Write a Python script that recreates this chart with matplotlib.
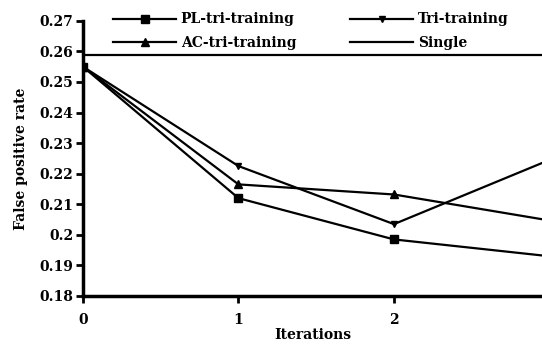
import matplotlib
matplotlib.use("Agg")
import matplotlib.pyplot as plt

iterations = [0, 1, 2, 3]
pl_tri = [0.255, 0.212, 0.1985, 0.193]
ac_tri = [0.255, 0.2165, 0.2132, 0.2047]
tri = [0.255, 0.2225, 0.2035, 0.2245]
single = 0.2588

yticks = [0.18, 0.19, 0.2, 0.21, 0.22, 0.23, 0.24, 0.25, 0.26, 0.27]
ytick_labels = ["0.18", "0.19", "0.2", "0.21", "0.22", "0.23", "0.24", "0.25", "0.26", "0.27"]

plt.rcParams["font.family"] = ["DejaVu Serif"]
plt.rcParams["font.weight"] = "bold"

fig = plt.figure(figsize=(5.42, 3.47), dpi=100)
ax = fig.add_axes([0.153, 0.147, 0.847, 0.793])

lw = 1.6
h1, = ax.plot(iterations, pl_tri, color="black", lw=lw, marker="s", ms=6, label="PL-tri-training")
h2, = ax.plot(iterations, ac_tri, color="black", lw=lw, marker="^", ms=6, label="AC-tri-training")
h3, = ax.plot(iterations, tri, color="black", lw=lw, marker="v", ms=4, label="Tri-training")
h4 = ax.axhline(single, color="black", lw=lw, label="Single")

ax.set_xlim(0, 2.952)
ax.set_ylim(0.18, 0.27)
ax.set_xticks([0, 1, 2])
ax.set_yticks(yticks)
ax.set_yticklabels(ytick_labels)

for side in ["top", "right"]:
    ax.spines[side].set_visible(False)
for side in ["left", "bottom"]:
    ax.spines[side].set_linewidth(2.5)
ax.tick_params(width=2, length=5, labelsize=10)
ax.tick_params(axis="y", pad=2)
ax.tick_params(axis="x", pad=7)
for lab in ax.get_xticklabels() + ax.get_yticklabels():
    lab.set_fontweight("bold")

ax.set_xlabel("Iterations", fontsize=10, fontweight="bold", labelpad=1)
ax.set_ylabel("False positive rate", fontsize=10, fontweight="bold", labelpad=8)

fig.legend(
    handles=[h1, h2, h3, h4],
    ncol=2,
    loc="upper left",
    bbox_to_anchor=(0.186, 1.0),
    frameon=False,
    handlelength=4.5,
    handletextpad=0.35,
    columnspacing=3.9,
    labelspacing=0.7,
    prop={"size": 10, "weight": "bold"},
)

fig.savefig("out.png", dpi=100)
